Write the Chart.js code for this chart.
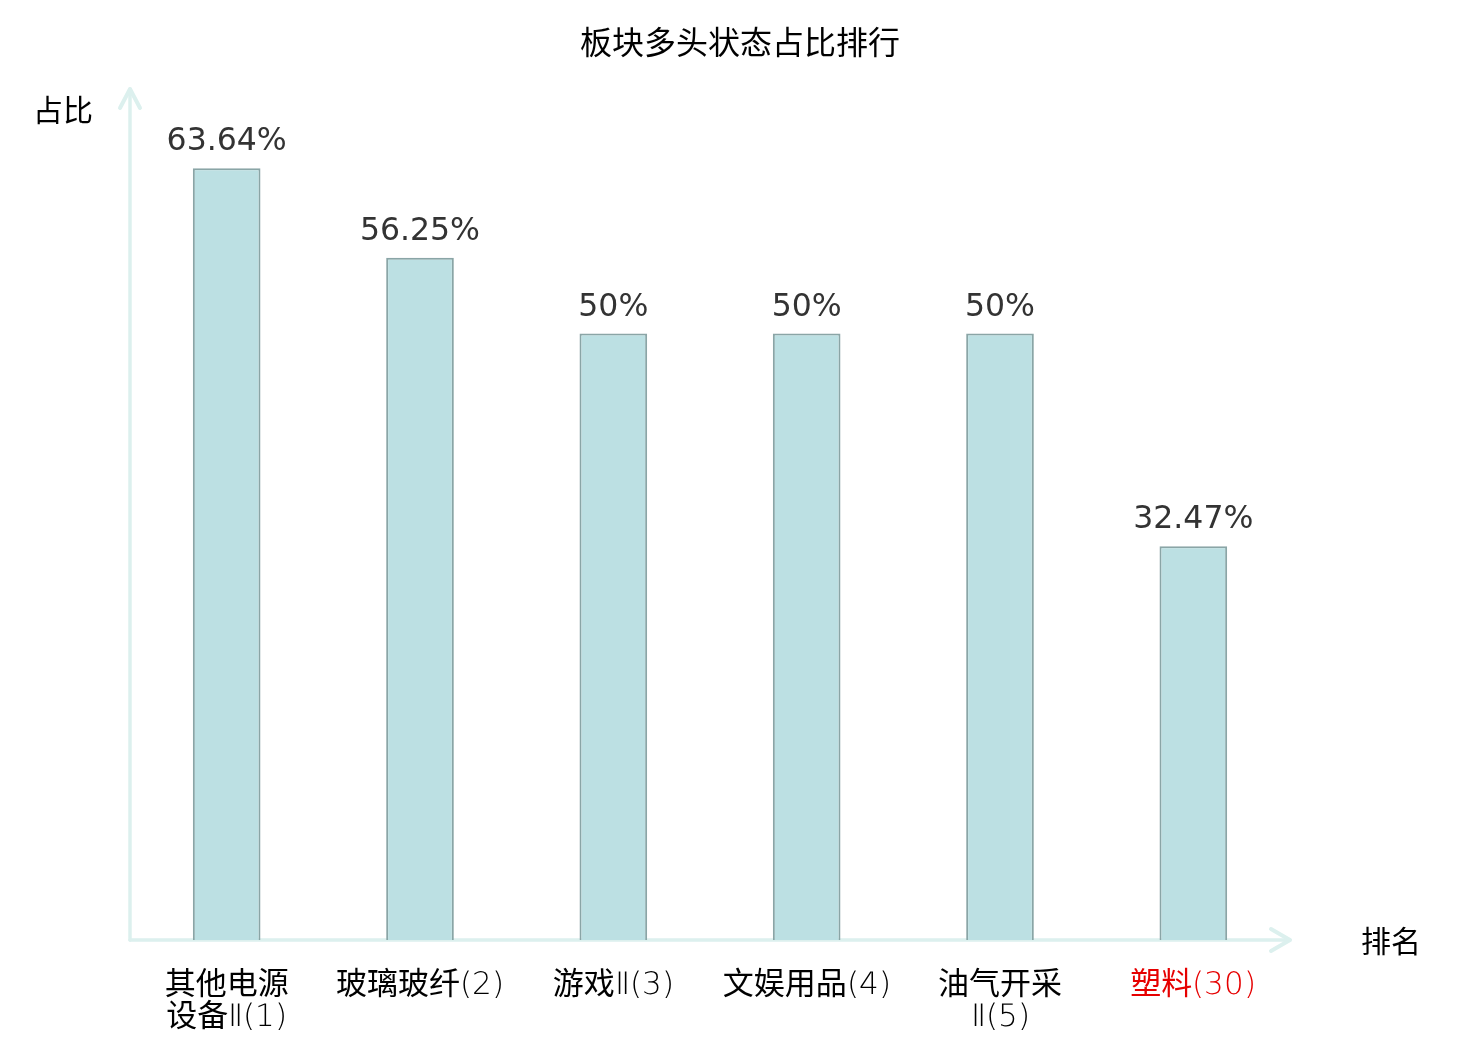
<!DOCTYPE html>
<html>
<head>
<meta charset="utf-8">
<script src="https://cdn.jsdelivr.net/npm/chart.js@4.4.0/dist/chart.umd.min.js"></script>
<style>
html,body{margin:0;padding:0;background:#fff;}
#wrap{width:1480px;height:1040px;position:relative;}
@font-face {
  font-family: 'TickLatin';
  src: local('DejaVu Sans ExtraLight'), local('DejaVuSans-ExtraLight'), local('Roboto Light'), local('Roboto-Light');
  font-weight: normal;
  unicode-range: U+0000-00FF, U+2150-218F;
}
</style>
</head>
<body>
<div id="wrap"><canvas id="c" width="1480" height="1040"></canvas></div>
<script>
const chartTitle = "板块多头状态占比排行";
const yAxisName = "占比";
const xAxisName = "排名";
const categories = [
  ["其他电源", "设备Ⅱ(1)"],
  ["玻璃玻纤(2)"],
  ["游戏Ⅱ(3)"],
  ["文娱用品(4)"],
  ["油气开采", "Ⅱ(5)"],
  ["塑料(30)"]
];
const values = [63.64, 56.25, 50, 50, 50, 32.47];
const valueLabels = ["63.64%", "56.25%", "50%", "50%", "50%", "32.47%"];
const labelColors = ["#000000", "#000000", "#000000", "#000000", "#000000", "#e60000"];

const cjk = "'Noto Sans CJK SC', 'DejaVu Sans', sans-serif";
const tickFont = "'TickLatin', 'Noto Sans CJK SC', sans-serif";
const axisColor = "#dcf0ee";

const decorPlugin = {
  id: 'decor',
  beforeDatasetsDraw(chart) {
    const ctx = chart.ctx;
    const a = chart.chartArea;
    ctx.save();
    ctx.strokeStyle = axisColor;
    ctx.lineCap = 'round';
    ctx.lineJoin = 'round';
    ctx.lineWidth = 3.5;
    ctx.beginPath();
    ctx.moveTo(a.left, a.bottom);
    ctx.lineTo(a.left, a.top - 2);
    ctx.stroke();
    ctx.beginPath();
    ctx.moveTo(a.left, a.bottom);
    ctx.lineTo(a.right, a.bottom);
    ctx.stroke();
    ctx.lineWidth = 4;
    ctx.beginPath();
    ctx.moveTo(a.left - 10, a.top + 17);
    ctx.lineTo(a.left, a.top - 2);
    ctx.lineTo(a.left + 10, a.top + 17);
    ctx.stroke();
    ctx.beginPath();
    ctx.moveTo(a.right - 19, a.bottom - 11);
    ctx.lineTo(a.right, a.bottom);
    ctx.lineTo(a.right - 19, a.bottom + 11);
    ctx.stroke();
    ctx.restore();
  },
  afterDatasetsDraw(chart) {
    const ctx = chart.ctx;
    ctx.save();
    ctx.font = "31.5px 'DejaVu Sans', sans-serif";
    ctx.fillStyle = "#333333";
    ctx.textAlign = 'center';
    ctx.textBaseline = 'alphabetic';
    const meta = chart.getDatasetMeta(0);
    meta.data.forEach((bar, i) => {
      ctx.fillText(valueLabels[i], bar.x, bar.y - 18);
    });
    ctx.fillStyle = "#000000";
    ctx.textBaseline = 'middle';
    ctx.textAlign = 'center';
    ctx.font = "32px " + cjk;
    ctx.fillText(chartTitle, 740, 42);
    ctx.font = "30px " + cjk;
    ctx.fillText(yAxisName, 63, 110);
    ctx.fillText(xAxisName, 1391, 941);
    ctx.restore();
  }
};

function draw() {
  new Chart(document.getElementById('c'), {
    type: 'bar',
    data: {
      labels: categories,
      datasets: [{
        data: values,
        backgroundColor: "#bce0e3",
        borderColor: "#8aa5a6",
        borderWidth: 2,
        barPercentage: 0.35,
        categoryPercentage: 1.0
      }]
    },
    options: {
      responsive: false,
      animation: false,
      devicePixelRatio: 1,
      layout: { padding: { left: 130, right: 190, top: 91, bottom: 0 } },
      plugins: {
        legend: { display: false },
        tooltip: { enabled: false },
        title: { display: false }
      },
      scales: {
        x: {
          grid: { display: false, drawTicks: false },
          border: { display: false },
          afterFit(scale) { scale.height = 100; },
          ticks: {
            padding: 30,
            color: labelColors,
            font: { family: tickFont, size: 31, lineHeight: 1.03 },
            maxRotation: 0,
            autoSkip: false
          }
        },
        y: {
          display: false,
          min: 0,
          max: 70
        }
      }
    },
    plugins: [decorPlugin]
  });
}

let drawn = false;
function go() { if (!drawn) { drawn = true; draw(); } }
if (document.fonts && document.fonts.load) {
  Promise.all([
    document.fonts.load("31px TickLatin", "(1)Ⅱ"),
    document.fonts.load("31px 'Noto Sans CJK SC'", "其他")
  ]).then(go, go);
  setTimeout(go, 1500);
} else {
  go();
}
</script>
</body>
</html>
